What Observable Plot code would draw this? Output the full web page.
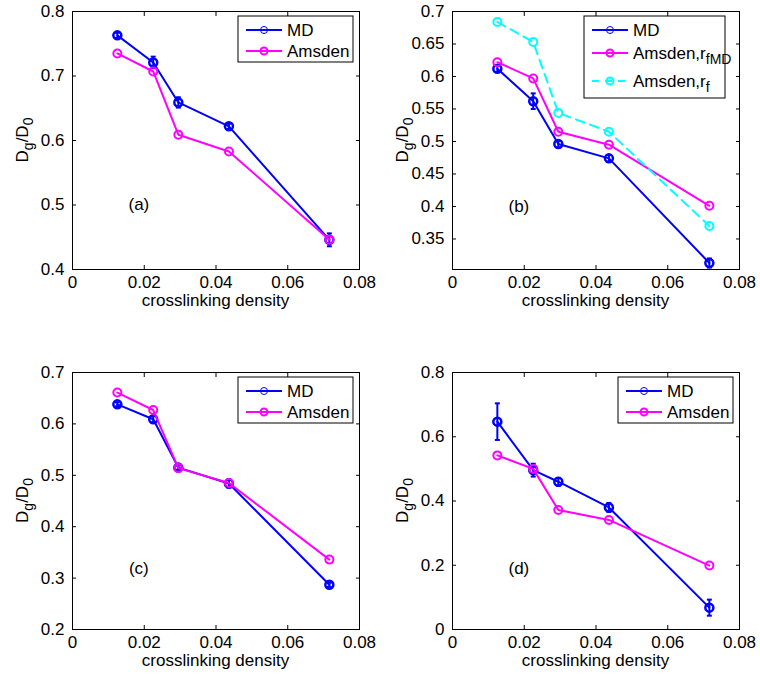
<!DOCTYPE html>
<html><head><meta charset="utf-8">
<script src="https://cdn.jsdelivr.net/npm/d3@7"></script>
<script src="https://cdn.jsdelivr.net/npm/@observablehq/plot@0.6"></script>
<style>
body{margin:0;background:#fff;}
#wrap{position:relative;width:760px;height:677px;font-family:"Liberation Sans",Arial,sans-serif;}
.panel{position:absolute;}
</style></head><body><div id="wrap"></div>
<script>
// crosslinking density (shared x values)
const density = [0.0125, 0.0225, 0.0295, 0.0436, 0.0716];
const xTickValues = [0, 0.02, 0.04, 0.06, 0.08];

// panel (a)
const mdA = [0.763, 0.721, 0.659, 0.622, 0.446];
const mdErrA = [0.004, 0.009, 0.008, 0.004, 0.010];
const amsdenA = [0.735, 0.707, 0.609, 0.583, 0.446];
const yTicksA = [0.4, 0.5, 0.6, 0.7, 0.8];

// panel (b)
const mdB = [0.612, 0.562, 0.496, 0.474, 0.313];
const mdErrB = [0.005, 0.012, 0.005, 0.005, 0.007];
const amsdenRfMDB = [0.622, 0.597, 0.515, 0.495, 0.401];
const amsdenRfB = [0.684, 0.653, 0.544, 0.515, 0.370];
const yTicksB = [0.35, 0.4, 0.45, 0.5, 0.55, 0.6, 0.65, 0.7];

// panel (c)
const mdC = [0.638, 0.609, 0.515, 0.484, 0.287];
const mdErrC = [0.004, 0.006, 0.004, 0.008, 0.004];
const amsdenC = [0.661, 0.627, 0.514, 0.485, 0.336];
const yTicksC = [0.2, 0.3, 0.4, 0.5, 0.6, 0.7];

// panel (d)
const mdD = [0.647, 0.496, 0.460, 0.380, 0.068];
const mdErrD = [0.057, 0.020, 0.012, 0.014, 0.025];
const amsdenD = [0.542, 0.500, 0.372, 0.341, 0.199];
const yTicksD = [0, 0.2, 0.4, 0.6, 0.8];

const panelTags = ["(a)", "(b)", "(c)", "(d)"];
const tagPosX = [0.0185, 0.0185, 0.0185, 0.0185];
const tagPosY = [0.5, 0.4, 0.318, 0.19];

const FONT = '"Liberation Sans", Arial, sans-serif';
const capSymbol = {draw(ctx, size){const w = Math.sqrt(size/Math.PI); ctx.moveTo(-w,0); ctx.lineTo(w,0);}};

function rows(vals, err){ return density.map((x,i)=>({x, y: vals[i], e: err ? err[i] : 0})); }

function makePanel(cfg){
  const W = 380, ml = 72, mr = 21;
  const marks = [];
  marks.push(Plot.frame({stroke:"black", strokeWidth:1}));
  marks.push(Plot.axisX(xTickValues, {anchor:"bottom", tickSize:0, tickPadding:6, tickFormat:d=>String(d), label:null, fontSize:17, fill:"black"}));
  marks.push(Plot.axisX(xTickValues, {anchor:"bottom", tickSize:-4, tickFormat:()=>"", label:null}));
  marks.push(Plot.axisX(xTickValues, {anchor:"top", tickSize:-4, tickFormat:()=>"", label:null}));
  marks.push(Plot.axisY(cfg.yTicks, {anchor:"left", tickSize:0, tickPadding:8, tickFormat:d=>String(d), label:null, fontSize:17, fill:"black"}));
  marks.push(Plot.axisY(cfg.yTicks, {anchor:"left", tickSize:-4, tickFormat:()=>"", label:null}));
  marks.push(Plot.axisY(cfg.yTicks, {anchor:"right", tickSize:-4, tickFormat:()=>"", label:null}));
  for (const s of cfg.series){
    const d = rows(s.values, s.err);
    marks.push(Plot.line(d, {x:"x", y:"y", stroke:s.color, strokeWidth:2, strokeDasharray:s.dash || null}));
    if (s.err){
      marks.push(Plot.ruleX(d, {x:"x", y1:r=>r.y-r.e, y2:r=>r.y+r.e, stroke:s.color, strokeWidth:2}));
      marks.push(Plot.dot(d, {x:"x", y:r=>r.y-r.e, symbol:capSymbol, r:2.5, stroke:s.color, strokeWidth:2}));
      marks.push(Plot.dot(d, {x:"x", y:r=>r.y+r.e, symbol:capSymbol, r:2.5, stroke:s.color, strokeWidth:2}));
    }
    marks.push(Plot.dot(d, {x:"x", y:"y", r:4, stroke:s.color, strokeWidth:s.err?2.5:2, fill:"none"}));
  }
  marks.push(Plot.text([cfg.tag], {x:()=>cfg.tagX, y:()=>cfg.tagY, text:d=>d, fontSize:17, fill:"black"}));

  const svg = Plot.plot({
    width: W, height: cfg.height,
    marginLeft: ml, marginRight: mr, marginTop: cfg.mt, marginBottom: cfg.mb,
    style: {fontFamily: FONT, fontSize: "17px", color: "black", background: "white"},
    x: {domain: [0, 0.08]},
    y: {domain: cfg.yDomain},
    marks
  });
  const s = d3.select(svg);
  const fb = cfg.height - cfg.mb, fr = W - mr;
  // x label
  s.append("text").attr("x", ml + (W-ml-mr)/2).attr("y", fb + 37).attr("text-anchor","middle")
    .attr("font-size",17).attr("font-family",FONT).attr("fill","black").text("crosslinking density");
  // y label with subscripts
  const yl = s.append("text").attr("transform", `translate(28,${cfg.mt + (fb-cfg.mt)/2}) rotate(-90)`)
    .attr("text-anchor","middle").attr("font-size",17).attr("font-family",FONT).attr("fill","black");
  yl.append("tspan").text("D");
  yl.append("tspan").attr("baseline-shift","-35%").attr("font-size",14).text("g");
  yl.append("tspan").text("/D");
  yl.append("tspan").attr("baseline-shift","-35%").attr("font-size",14).text("0");
  // legend
  const L = cfg.legend;
  const g = s.append("g").attr("transform", `translate(${fr - L.right - L.w},${cfg.mt + 5})`);
  g.append("rect").attr("width", L.w).attr("height", L.h).attr("fill","white").attr("stroke","black");
  cfg.series.forEach((se, i) => {
    const yy = L.rowY[i];
    g.append("line").attr("x1", L.lx0).attr("x2", L.lx0 + 36).attr("y1", yy).attr("y2", yy)
      .attr("stroke", se.color).attr("stroke-width", 2).attr("stroke-dasharray", se.dash ? "7,6" : null);
    g.append("circle").attr("cx", L.lx0 + 18).attr("cy", yy).attr("r", 3.5).attr("fill","none")
      .attr("stroke", se.color).attr("stroke-width", se.err ? 1 : 2);
    const t = g.append("text").attr("x", L.lx0 + 41).attr("y", yy + 6).attr("font-size",17)
      .attr("text-anchor","start").attr("font-family",FONT).attr("fill","black");
    t.append("tspan").text(se.name);
    if (se.sub) t.append("tspan").attr("baseline-shift","-35%").attr("font-size",14).text(se.sub);
  });
  const div = document.createElement("div");
  div.className = "panel";
  div.style.left = cfg.left + "px"; div.style.top = cfg.top + "px";
  div.appendChild(svg);
  document.getElementById("wrap").appendChild(div);
}

const legend2 = {w:115, h:46, right:6, lx0:8, rowY:[14, 35]};

makePanel({left:0, top:0, height:320, mt:11, mb:51, yDomain:[0.4,0.8], yTicks:yTicksA,
  tag:panelTags[0], tagX:tagPosX[0], tagY:tagPosY[0], legend:legend2,
  series:[{name:"MD", values:mdA, err:mdErrA, color:"#0000ff"},
          {name:"Amsden", values:amsdenA, color:"#ff00ff"}]});

makePanel({left:380, top:0, height:320, mt:11, mb:51, yDomain:[0.303,0.7], yTicks:yTicksB,
  tag:panelTags[1], tagX:tagPosX[1], tagY:tagPosY[1],
  legend:{w:141, h:82, right:14, lx0:8, rowY:[14, 37, 65]},
  series:[{name:"MD", values:mdB, err:mdErrB, color:"#0000ff"},
          {name:"Amsden,r", sub:"fMD", values:amsdenRfMDB, color:"#ff00ff"},
          {name:"Amsden,r", sub:"f", values:amsdenRfB, color:"#00ffff", dash:"9,6"}]});

makePanel({left:0, top:330, height:347, mt:42, mb:48, yDomain:[0.2,0.7], yTicks:yTicksC,
  tag:panelTags[2], tagX:tagPosX[2], tagY:tagPosY[2], legend:legend2,
  series:[{name:"MD", values:mdC, err:mdErrC, color:"#0000ff"},
          {name:"Amsden", values:amsdenC, color:"#ff00ff"}]});

makePanel({left:380, top:330, height:347, mt:42, mb:48, yDomain:[0,0.8], yTicks:yTicksD,
  tag:panelTags[3], tagX:tagPosX[3], tagY:tagPosY[3], legend:legend2,
  series:[{name:"MD", values:mdD, err:mdErrD, color:"#0000ff"},
          {name:"Amsden", values:amsdenD, color:"#ff00ff"}]});
</script></body></html>
